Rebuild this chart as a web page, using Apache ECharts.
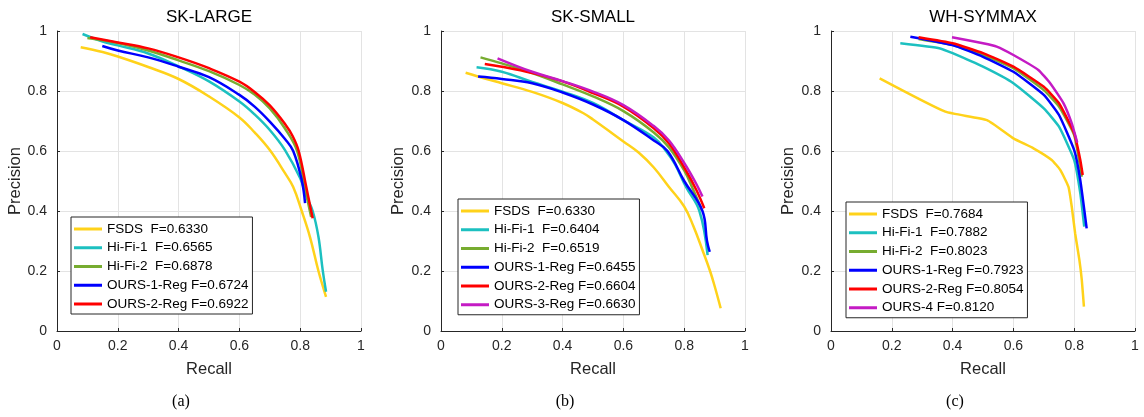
<!DOCTYPE html>
<html><head><meta charset="utf-8">
<script src="https://cdn.jsdelivr.net/npm/echarts@6/dist/echarts.min.js"></script>
<style>html,body{margin:0;padding:0;background:#fff}#c{width:1144px;height:417px}</style>
</head><body><div id="c"></div><script>
// ---------- data (recall, precision) ----------
const titles = ['SK-LARGE', 'SK-SMALL', 'WH-SYMMAX'];
const captions = ['(a)', '(b)', '(c)'];
const ticks = [0, 0.2, 0.4, 0.6, 0.8, 1];

// (a) SK-LARGE
const aNames = ['FSDS  F=0.6330', 'Hi-Fi-1  F=0.6565', 'Hi-Fi-2  F=0.6878', 'OURS-1-Reg F=0.6724', 'OURS-2-Reg F=0.6922'];
const aFSDS = [[0.078,0.946],[0.15,0.93],[0.2,0.915],[0.3,0.88],[0.4,0.84],[0.5,0.782],[0.6,0.712],[0.65,0.662],[0.7,0.603],[0.75,0.526],[0.777,0.48],[0.805,0.40],[0.832,0.314],[0.86,0.2],[0.885,0.114]];
const aHiFi1 = [[0.084,0.99],[0.15,0.965],[0.2,0.952],[0.3,0.925],[0.4,0.882],[0.5,0.832],[0.6,0.765],[0.65,0.722],[0.7,0.67],[0.75,0.603],[0.8,0.509],[0.82,0.45],[0.841,0.40],[0.86,0.314],[0.874,0.203],[0.885,0.131]];
const aHiFi2 = [[0.1,0.977],[0.2,0.96],[0.3,0.935],[0.4,0.902],[0.5,0.866],[0.6,0.82],[0.65,0.788],[0.7,0.742],[0.75,0.675],[0.79,0.60],[0.815,0.48],[0.836,0.38]];
const aOurs1 = [[0.149,0.95],[0.2,0.935],[0.3,0.912],[0.4,0.881],[0.5,0.846],[0.6,0.787],[0.65,0.748],[0.7,0.698],[0.75,0.64],[0.777,0.60],[0.805,0.503],[0.816,0.426]];
const aOurs2 = [[0.109,0.979],[0.2,0.962],[0.3,0.942],[0.4,0.912],[0.5,0.876],[0.6,0.831],[0.65,0.797],[0.7,0.752],[0.75,0.69],[0.775,0.65],[0.795,0.60],[0.82,0.48],[0.841,0.376]];

// (b) SK-SMALL
const bNames = ['FSDS  F=0.6330', 'Hi-Fi-1  F=0.6404', 'Hi-Fi-2  F=0.6519', 'OURS-1-Reg F=0.6455', 'OURS-2-Reg F=0.6604', 'OURS-3-Reg F=0.6630'];
const bFSDS = [[0.081,0.861],[0.15,0.84],[0.2,0.826],[0.3,0.797],[0.4,0.76],[0.47,0.725],[0.5,0.705],[0.6,0.632],[0.65,0.595],[0.7,0.545],[0.75,0.48],[0.8,0.415],[0.83,0.35],[0.86,0.27],[0.885,0.2],[0.9,0.15],[0.92,0.076]];
const bHiFi1 = [[0.117,0.879],[0.2,0.864],[0.3,0.83],[0.4,0.798],[0.5,0.76],[0.6,0.703],[0.7,0.645],[0.74,0.6],[0.77,0.555],[0.806,0.48],[0.85,0.4],[0.877,0.253]];
const bHiFi2 = [[0.13,0.912],[0.2,0.892],[0.3,0.86],[0.4,0.822],[0.5,0.782],[0.6,0.733],[0.7,0.662],[0.75,0.612],[0.8,0.535],[0.83,0.47],[0.858,0.403]];
const bOurs1 = [[0.122,0.848],[0.2,0.84],[0.3,0.826],[0.4,0.795],[0.5,0.755],[0.6,0.703],[0.7,0.635],[0.745,0.6],[0.8,0.5],[0.86,0.4],[0.875,0.3],[0.884,0.264]];
const bOurs2 = [[0.144,0.89],[0.2,0.881],[0.3,0.86],[0.4,0.832],[0.5,0.793],[0.6,0.748],[0.7,0.676],[0.75,0.625],[0.8,0.545],[0.84,0.47],[0.866,0.409]];
const bOurs3 = [[0.186,0.909],[0.3,0.864],[0.4,0.833],[0.5,0.798],[0.6,0.753],[0.7,0.683],[0.75,0.635],[0.8,0.56],[0.84,0.49],[0.86,0.448]];

// (c) WH-SYMMAX
const cNames = ['FSDS  F=0.7684', 'Hi-Fi-1  F=0.7882', 'Hi-Fi-2  F=0.8023', 'OURS-1-Reg F=0.7923', 'OURS-2-Reg F=0.8054', 'OURS-4 F=0.8120'];
const cFSDS = [[0.16,0.842],[0.376,0.731],[0.513,0.703],[0.6,0.642],[0.666,0.609],[0.726,0.57],[0.754,0.537],[0.781,0.481],[0.792,0.414],[0.803,0.326],[0.817,0.237],[0.825,0.17],[0.832,0.081]];
const cHiFi1 = [[0.228,0.959],[0.359,0.942],[0.4,0.926],[0.5,0.881],[0.6,0.826],[0.7,0.742],[0.75,0.681],[0.8,0.57],[0.82,0.46],[0.833,0.348]];
const cHiFi2 = [[0.288,0.973],[0.4,0.953],[0.5,0.92],[0.6,0.876],[0.7,0.803],[0.75,0.748],[0.8,0.653],[0.825,0.514]];
const cOurs1 = [[0.261,0.981],[0.4,0.953],[0.5,0.914],[0.6,0.864],[0.7,0.787],[0.75,0.72],[0.8,0.603],[0.82,0.503],[0.841,0.342]];
const cOurs2 = [[0.288,0.979],[0.4,0.959],[0.5,0.926],[0.6,0.881],[0.7,0.814],[0.75,0.759],[0.8,0.659],[0.82,0.57],[0.828,0.52]];
const cOurs4 = [[0.398,0.979],[0.5,0.959],[0.545,0.948],[0.6,0.92],[0.682,0.87],[0.721,0.826],[0.765,0.759],[0.792,0.692],[0.81,0.628]];

// ---------- styling ----------
const C = { yellow:'#FFD21A', cyan:'#1CC0C0', green:'#77AC30', blue:'#0000FF', red:'#FF0000', magenta:'#C41BC4' };
const FONT = 'Liberation Sans, Arial, sans-serif';
const panels = [
  { names:aNames, data:[aFSDS,aHiFi1,aHiFi2,aOurs1,aOurs2], colors:[C.yellow,C.cyan,C.green,C.blue,C.red], smooth:0.4, left:57, legend:{left:71, top:217} },
  { names:bNames, data:[bFSDS,bHiFi1,bHiFi2,bOurs1,bOurs2,bOurs3], colors:[C.yellow,C.cyan,C.green,C.blue,C.red,C.magenta], smooth:0.4, left:441, legend:{left:458, top:199} },
  { names:cNames, data:[cFSDS,cHiFi1,cHiFi2,cOurs1,cOurs2,cOurs4], colors:[C.yellow,C.cyan,C.green,C.blue,C.red,C.magenta], smooth:0.15, left:831, legend:{left:846, top:202} }
];
const GW = 304, GT = 31, GH = 300;

const grid = [], xAxis = [], yAxis = [], series = [], legend = [], graphic = [];
panels.forEach((p, i) => {
  grid.push({ left:p.left, top:GT, width:GW, height:GH, containLabel:false });
  const axisCommon = {
    type:'value', min:ticks[0], max:ticks[ticks.length-1], interval:0.2, gridIndex:i,
    axisLine:{ show:true, lineStyle:{ color:'#262626', width:1 } },
    axisTick:{ show:true, inside:true, length:3, lineStyle:{ color:'#262626' } },
    splitLine:{ show:true, lineStyle:{ color:'#e3e3e3', width:1 } },
    nameLocation:'middle',
    nameTextStyle:{ fontFamily:FONT, fontSize:16.5, color:'#262626' }
  };
  xAxis.push(Object.assign({}, axisCommon, {
    name:'Recall', nameGap:30,
    axisLabel:{ fontFamily:FONT, fontSize:14, color:'#262626', margin:8 }
  }));
  yAxis.push(Object.assign({}, axisCommon, {
    name:'Precision', nameGap:i === 0 ? 32 : 34,
    axisLabel:{ fontFamily:FONT, fontSize:14, color:'#262626', margin:10 }
  }));
  p.data.forEach((d, k) => {
    series.push({
      type:'line', name:p.names[k], xAxisIndex:i, yAxisIndex:i, data:d,
      showSymbol:false, symbol:'none', smooth:p.smooth, animation:false,
      lineStyle:{ width:2.5, color:p.colors[k] }, itemStyle:{ color:p.colors[k] },
      z:2+k
    });
  });
  legend.push({
    orient:'vertical', left:p.legend.left, top:p.legend.top, data:p.names, selectedMode:false,
    icon:'rect', itemWidth:28, itemHeight:3, itemGap:2.75,
    padding:[4,4,2,3], borderColor:'#262626', borderWidth:1, backgroundColor:'#fff', borderRadius:0,
    textStyle:{ fontFamily:FONT, fontSize:13.5, color:'#000', lineHeight:16 }
  });
  const cx = p.left + GW/2;
  graphic.push({ type:'text', x:cx, y:17, style:{ text:titles[i], textAlign:'center', align:'center', textVerticalAlign:'middle', verticalAlign:'middle', font:'17px ' + FONT, fill:'#000' } });
  graphic.push({ type:'text', x:cx - 28, y:402, style:{ text:captions[i], textAlign:'center', align:'center', textVerticalAlign:'middle', verticalAlign:'middle', font:'16px Liberation Serif, Times New Roman, serif', fill:'#000' } });
});

const chart = echarts.init(document.getElementById('c'), null, { renderer:'canvas' });
chart.setOption({ backgroundColor:'#fff', animation:false, grid, xAxis, yAxis, series, legend, graphic });
</script></body></html>
